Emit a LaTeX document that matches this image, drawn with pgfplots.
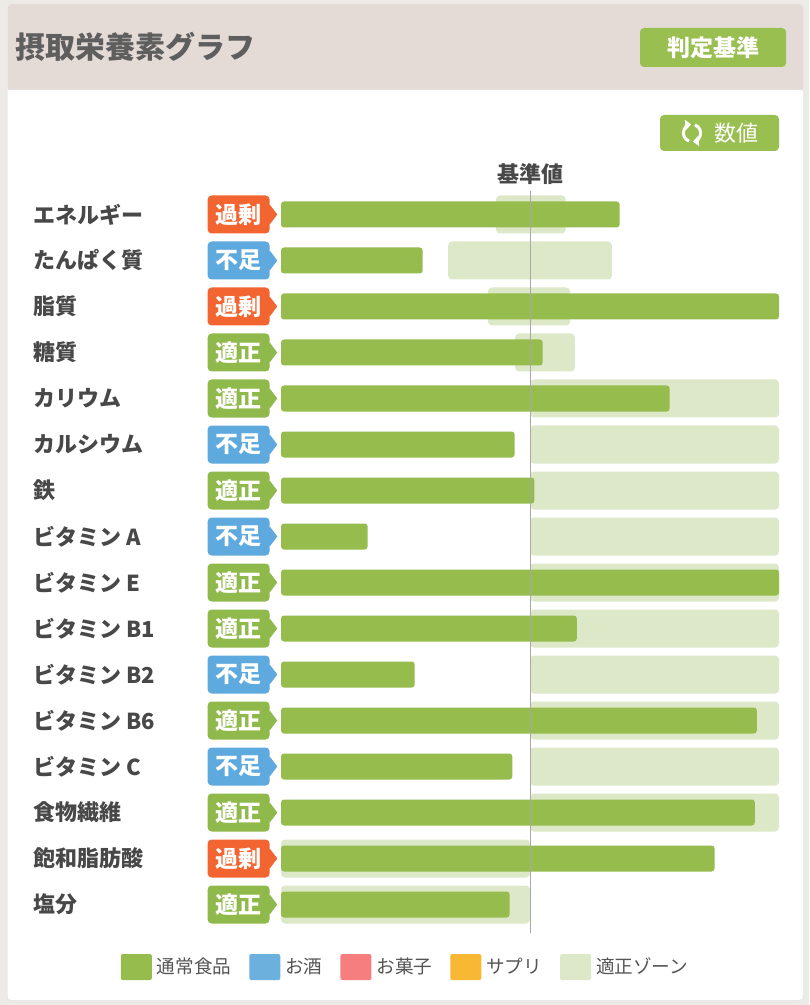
\documentclass[border=0pt]{standalone}
\usepackage{pgfplots}
\usepackage{pgfplotstable}
\pgfplotsset{compat=1.18}
\usepackage{fontspec}
\setmainfont{Noto Sans CJK JP}
\usetikzlibrary{arrows.meta}

\definecolor{bggray}{HTML}{ECEBE6}
\definecolor{headbg}{HTML}{E4DBD6}
\definecolor{barGreen}{HTML}{95BC4D}
\definecolor{zoneGreen}{HTML}{DCE8C8}
\definecolor{tagOrange}{HTML}{F26530}
\definecolor{tagBlue}{HTML}{5EAADF}
\definecolor{tagGreen}{HTML}{8FBA4B}
\definecolor{btnGreen}{HTML}{98BF50}
\definecolor{txtDark}{HTML}{484848}
\definecolor{txtLeg}{HTML}{555555}
\definecolor{txtTitle}{HTML}{5E5E5E}
\definecolor{legBlue}{HTML}{6CB0DE}
\definecolor{legRed}{HTML}{F77E7E}
\definecolor{legYellow}{HTML}{F9B834}
\definecolor{refLine}{HTML}{A8A8A8}

% appropriate zone (lo..hi, % of standard) per nutrient row
\pgfplotstableread{
y lo hi
0 86.3 114.3
-1 67.1 132.9
-2 83.1 116.1
-3 94.0 118.0
-4 100 200
-5 100 200
-6 100 200
-7 100 200
-8 100 200
-9 100 200
-10 100 200
-11 100 200
-12 100 200
-13 100 200
-14 0 100
-15 0 100
}\zonetable

% intake from normal food (% of standard, capped at 200)
\pgfplotstableread{
y val
0 136.0
-1 56.9
-2 200
-3 105.1
-4 156.1
-5 93.8
-6 101.8
-7 34.8
-8 200
-9 118.8
-10 53.7
-11 191.1
-12 92.9
-13 190.3
-14 174.1
-15 91.8
}\intaketable

\tikzset{
  tagnode/.style={anchor=east, text=white,
    font=\bfseries\fontsize{11.5}{12}\selectfont,
    minimum width=31pt, minimum height=19pt, inner sep=0pt,
    rounded corners=2pt},
}
\pgfplotsset{
  baseaxis/.style={
    at={(140.5pt,-95.75pt)}, anchor=north west,
    scale only axis, width=249pt, height=368pt,
    xmin=0, xmax=200, ymin=-15.5, ymax=0.5,
    axis line style={draw=none}, tick style={draw=none},
    xtick=\empty, clip=false,
  },
}

\begin{document}
\begin{tikzpicture}
\useasboundingbox (0,0) rectangle (404.5pt,-502.5pt);
\fill[bggray] (0,0) rectangle (404.5pt,-502.5pt);
% card
\fill[black!9, rounded corners=2pt] (3.25pt,-2.5pt) rectangle (402pt,-500.75pt);
\fill[white, rounded corners=2pt] (3.75pt,-2pt) rectangle (401.5pt,-500pt);
\fill[headbg, rounded corners=2pt] (3.75pt,-2pt) rectangle (401.5pt,-45pt);
\fill[headbg] (3.75pt,-40pt) rectangle (401.5pt,-45pt);
\draw[black!12, line width=0.5pt] (3.75pt,-45pt) -- (401.5pt,-45pt);
% title
\node[anchor=west, inner sep=0pt, text=txtTitle, font=\bfseries\fontsize{15}{16}\selectfont] at (7.5pt,-23.5pt) {摂取栄養素グラフ};
% buttons
\fill[btnGreen, rounded corners=2pt] (320pt,-14pt) rectangle (393pt,-33.5pt);
\node[text=white, font=\bfseries\fontsize{11.5}{12}\selectfont] at (356.5pt,-23.75pt) {判定基準};
\fill[btnGreen, rounded corners=2pt] (330pt,-57.5pt) rectangle (389.5pt,-75.5pt);
\node[text=white, font=\fontsize{11}{12}\selectfont] at (368.25pt,-66.5pt) {数値};
\draw[white, line width=1.5pt, -{Triangle[length=3pt,width=5pt]}] (346pt,-66.5pt) ++(250:4.3pt) arc[start angle=250, end angle=95, radius=4.3pt];
\draw[white, line width=1.5pt, -{Triangle[length=3pt,width=5pt]}] (346pt,-66.5pt) ++(70:4.3pt) arc[start angle=70, end angle=-85, radius=4.3pt];

% zones axis
\begin{axis}[baseaxis, ytick=\empty, xbar stacked, bar width=19pt]
\addplot[draw=none, fill=none] table[x=lo, y=y] {\zonetable};
\addplot[fill=zoneGreen, draw=none, rounded corners=2pt] table[x expr=\thisrow{hi}-\thisrow{lo}, y=y] {\zonetable};
\end{axis}

% intake axis
\begin{axis}[baseaxis,
  ytick={-15,-14,...,0},
  yticklabels={塩分,飽和脂肪酸,食物繊維,ビタミン C,ビタミン B6,ビタミン B2,ビタミン B1,ビタミン E,ビタミン A,鉄,カルシウム,カリウム,糖質,脂質,たんぱく質,エネルギー},
  yticklabel style={anchor=west, inner xsep=0pt, xshift=-124pt,
    font=\bfseries\fontsize{11}{13}\selectfont, text=txtDark},
  legend image code/.code={\fill[#1, draw=none, rounded corners=1pt] (0pt,-6.5pt) rectangle (15.5pt,6.5pt);},
  legend style={at={(0.252,-0.0537)}, anchor=center, draw=none, fill=none,
    legend columns=5, font=\fontsize{9.3}{11}\selectfont, text=txtLeg,
    /tikz/every odd column/.append style={column sep=0.5pt},
    /tikz/every even column/.append style={column sep=7pt}},
]
\addplot[forget plot, xbar, bar shift=0pt, bar width=13pt, fill=barGreen, draw=none, rounded corners=1.5pt] table[x=val, y=y] {\intaketable};

\addplot[forget plot, only marks, mark=diamond*, mark size=4.5pt, color=tagOrange,
  nodes near coords={過剰}, every node near coord/.append style={tagnode, fill=tagOrange}]
  coordinates {(-4.42,0) (-4.42,-2) (-4.42,-14)};
\addplot[forget plot, only marks, mark=diamond*, mark size=4.5pt, color=tagBlue,
  nodes near coords={不足}, every node near coord/.append style={tagnode, fill=tagBlue}]
  coordinates {(-4.42,-1) (-4.42,-5) (-4.42,-7) (-4.42,-10) (-4.42,-12)};
\addplot[forget plot, only marks, mark=diamond*, mark size=4.5pt, color=tagGreen,
  nodes near coords={適正}, every node near coord/.append style={tagnode, fill=tagGreen}]
  coordinates {(-4.42,-3) (-4.42,-4) (-4.42,-6) (-4.42,-8) (-4.42,-9) (-4.42,-11) (-4.42,-13) (-4.42,-15)};

\addplot[forget plot, refLine, line width=0.5pt] coordinates {(100,0.5) (100,-15.62)};
\node[font=\bfseries\fontsize{11}{12}\selectfont, text=txtDark] at (axis cs:100,0.88) {基準値};

\addlegendimage{fill=barGreen}\addlegendentry{通常食品}
\addlegendimage{fill=legBlue}\addlegendentry{お酒}
\addlegendimage{fill=legRed}\addlegendentry{お菓子}
\addlegendimage{fill=legYellow}\addlegendentry{サプリ}
\addlegendimage{fill=zoneGreen}\addlegendentry{適正ゾーン}
\end{axis}
\end{tikzpicture}
\end{document}
